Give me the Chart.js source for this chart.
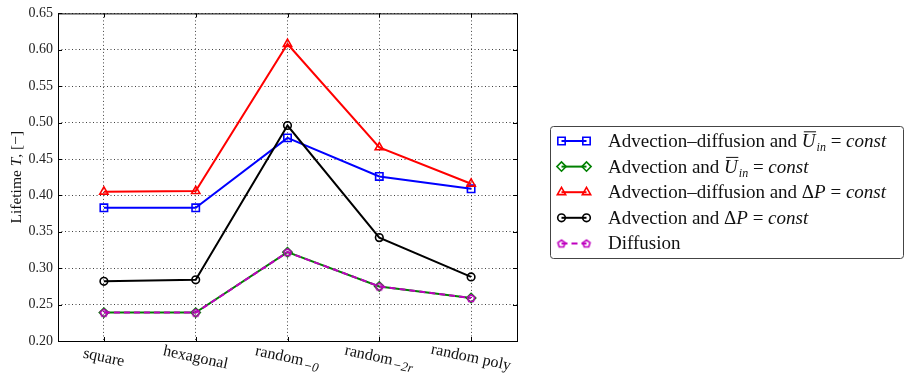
<!DOCTYPE html>
<html>
<head>
<meta charset="utf-8">
<script src="https://cdn.jsdelivr.net/npm/chart.js@4/dist/chart.umd.min.js"></script>
<style>
  html, body { margin: 0; padding: 0; background: #fff; }
  #wrap { width: 904px; height: 379px; position: relative; }
</style>
</head>
<body>
<div id="wrap"><canvas id="c"></canvas></div>
<script>
// categories ({s:..} = subscript, {i:..} = italic, {o:..} = overlined italic)
const categories = ["square", "hexagonal", "random{s:−0}", "random{s:−2r}", "random poly"];

const advDiffU  = [0.383, 0.383, 0.479, 0.426, 0.409];
const advU      = [0.239, 0.239, 0.322, 0.275, 0.259];
const advDiffP  = [0.405, 0.406, 0.608, 0.466, 0.416];
const advP      = [0.282, 0.284, 0.496, 0.342, 0.288];
const diffusion = [0.239, 0.239, 0.322, 0.275, 0.259];

const seriesNames = [
  "Advection–diffusion and {o:U}{s:in} = {i:const}",
  "Advection and {o:U}{s:in} = {i:const}",
  "Advection–diffusion and Δ{i:P} = {i:const}",
  "Advection and Δ{i:P} = {i:const}",
  "Diffusion"
];

const yMin = 0.20, yMax = 0.65, yStep = 0.05;
const yTitle = "Lifetime {i:T}, [−]";

const SERIF = '"Liberation Serif", "DejaVu Serif", serif';

// pentagon marker for the diffusion series
function pentagon(color, r) {
  const cv = document.createElement("canvas");
  const s = Math.ceil(r * 2 + 4);
  cv.width = s; cv.height = s;
  const g = cv.getContext("2d");
  g.strokeStyle = color; g.lineWidth = 1.6;
  g.beginPath();
  for (let k = 0; k < 5; k++) {
    const a = -Math.PI / 2 + k * 2 * Math.PI / 5;
    const px = s / 2 + r * Math.cos(a), py = s / 2 + r * Math.sin(a) + 0.5;
    k ? g.lineTo(px, py) : g.moveTo(px, py);
  }
  g.closePath(); g.stroke();
  return cv;
}

function parseRich(s) {
  const out = [], re = /\{(\w):([^}]*)\}/g;
  let last = 0, m;
  while ((m = re.exec(s))) {
    if (m.index > last) out.push({ t: s.slice(last, m.index), k: "n" });
    out.push({ t: m[2], k: m[1] });
    last = re.lastIndex;
  }
  if (last < s.length) out.push({ t: s.slice(last), k: "n" });
  return out;
}
function segFont(k, size, sub) {
  if (k === "n") return size + "px " + SERIF;
  if (k === "s") return "italic " + Math.round(size * sub) + "px " + SERIF;
  return "italic " + size + "px " + SERIF;
}
function drawRich(ctx, s, x, y, size, align, sub) {
  sub = sub || 0.72;
  const segs = parseRich(s);
  ctx.save();
  ctx.textBaseline = "alphabetic";
  ctx.textAlign = "left";
  let w = 0;
  segs.forEach(g => { ctx.font = segFont(g.k, size, sub); g.w = ctx.measureText(g.t).width + (g.k === "s" ? 1 : 0); w += g.w; });
  let cx = align === "center" ? x - w / 2 : x;
  segs.forEach(g => {
    ctx.font = segFont(g.k, size, sub);
    ctx.fillText(g.t, cx + (g.k === "s" ? 1 : 0), y + (g.k === "s" ? size * 0.22 : 0));
    if (g.k === "o") {
      ctx.beginPath();
      ctx.lineWidth = 1;
      ctx.strokeStyle = ctx.fillStyle;
      ctx.moveTo(cx + 2, y - size * 0.8);
      ctx.lineTo(cx + g.w + 0.5, y - size * 0.8);
      ctx.stroke();
    }
    cx += g.w;
  });
  ctx.restore();
}

const decor = {
  id: "decor",
  afterDraw(chart) {
    const { ctx, chartArea: a, scales: { x, y } } = chart;
    ctx.save();
    // frame
    ctx.strokeStyle = "#000";
    ctx.lineWidth = 1;
    ctx.strokeRect(a.left + 0.5, a.top + 0.5, a.right - a.left, a.bottom - a.top);
    // inward ticks
    ctx.beginPath();
    y.ticks.forEach((t, i) => {
      const py = Math.round(y.getPixelForTick(i)) + 0.5;
      ctx.moveTo(a.left, py); ctx.lineTo(a.left + 4, py);
      ctx.moveTo(a.right, py); ctx.lineTo(a.right - 4, py);
    });
    x.ticks.forEach((t, i) => {
      const px = Math.round(x.getPixelForTick(i)) + 0.5;
      ctx.moveTo(px, a.bottom); ctx.lineTo(px, a.bottom - 4);
      ctx.moveTo(px, a.top); ctx.lineTo(px, a.top + 4);
    });
    ctx.stroke();

    // slanted category labels
    ctx.fillStyle = "#111";
    categories.forEach((c, i) => {
      ctx.save();
      ctx.translate(x.getPixelForTick(i), a.bottom + 16);
      ctx.rotate(12 * Math.PI / 180);
      drawRich(ctx, c, 0, 5, 16, "center", 0.82);
      ctx.restore();
    });

    // y title
    ctx.save();
    ctx.translate(21, (a.top + a.bottom) / 2);
    ctx.rotate(-Math.PI / 2);
    drawRich(ctx, yTitle, 0, 0, 15.5, "center");
    ctx.restore();

    // legend box
    const lx = a.right + 33, ly = 126, lw = chart.width - lx - 1, lh = 132;
    ctx.beginPath();
    ctx.roundRect(lx + 0.5, ly + 0.5, lw, lh, 3);
    ctx.fillStyle = "#fff"; ctx.fill();
    ctx.strokeStyle = "#444"; ctx.lineWidth = 1; ctx.stroke();
    chart.data.datasets.forEach((ds, i) => {
      const yy = ly + 15 + i * 25.6;
      const x0 = lx + 11.5, x1 = lx + 36.5;
      ctx.save();
      ctx.strokeStyle = ds.borderColor;
      ctx.lineWidth = ds.borderWidth;
      ctx.setLineDash(ds.borderDash || []);
      ctx.beginPath(); ctx.moveTo(x0, yy); ctx.lineTo(x1, yy); ctx.stroke();
      ctx.setLineDash([]);
      ctx.fillStyle = "rgba(0,0,0,0)";
      ctx.lineWidth = ds.pointBorderWidth;
      [x0, x1].forEach(px => Chart.helpers.drawPoint(ctx, {
        pointStyle: ds.pointStyle, radius: ds.pointRadius, borderWidth: ds.pointBorderWidth, rotation: 0
      }, px, yy));
      ctx.restore();
      ctx.fillStyle = "#111";
      drawRich(ctx, seriesNames[i], lx + 58, yy + 6, 19, "left", 0.62);
    });
    ctx.restore();
  }
};

function series(i, data, color, style, r, dash) {
  return {
    label: seriesNames[i],
    data: data,
    borderColor: color,
    backgroundColor: "rgba(0,0,0,0)",
    borderWidth: 2,
    borderDash: dash || [],
    pointStyle: style,
    pointRadius: r,
    pointBorderWidth: 1.6,
    pointBorderColor: color,
    pointBackgroundColor: "rgba(0,0,0,0)",
    tension: 0,
    order: -i
  };
}

new Chart(document.getElementById("c"), {
  type: "line",
  data: {
    labels: categories,
    datasets: [
      series(0, advDiffU, "#0000ff", "rect", 5.2),
      series(1, advU, "#008000", "rectRot", 4.6),
      series(2, advDiffP, "#ff0000", "triangle", 4.8),
      series(3, advP, "#000000", "circle", 3.8),
      series(4, diffusion, "#bf00bf", pentagon("#bf00bf", 3.8), 4, [6, 4])
    ]
  },
  options: {
    responsive: true,
    maintainAspectRatio: false,
    animation: false,
    layout: { padding: { left: 0, top: 13, right: 387, bottom: 0 } },
    plugins: { legend: { display: false }, tooltip: { enabled: false } },
    scales: {
      x: {
        offset: true,
        grid: { color: "rgba(0,0,0,0.75)", lineWidth: 1, drawTicks: false, offset: false },
        border: { display: false, dash: [1, 2.5] },
        ticks: { display: false },
        afterFit: s => { s.height = 38; }
      },
      y: {
        min: yMin,
        max: yMax,
        grid: { color: "rgba(0,0,0,0.75)", lineWidth: 1, drawTicks: false },
        border: { display: false, dash: [1, 2.5] },
        ticks: {
          stepSize: yStep,
          padding: 5,
          color: "#222",
          font: { family: SERIF, size: 14 },
          callback: v => v.toFixed(2)
        },
        afterFit: s => { s.width = 58; }
      }
    }
  },
  plugins: [decor]
});
</script>
</body>
</html>
